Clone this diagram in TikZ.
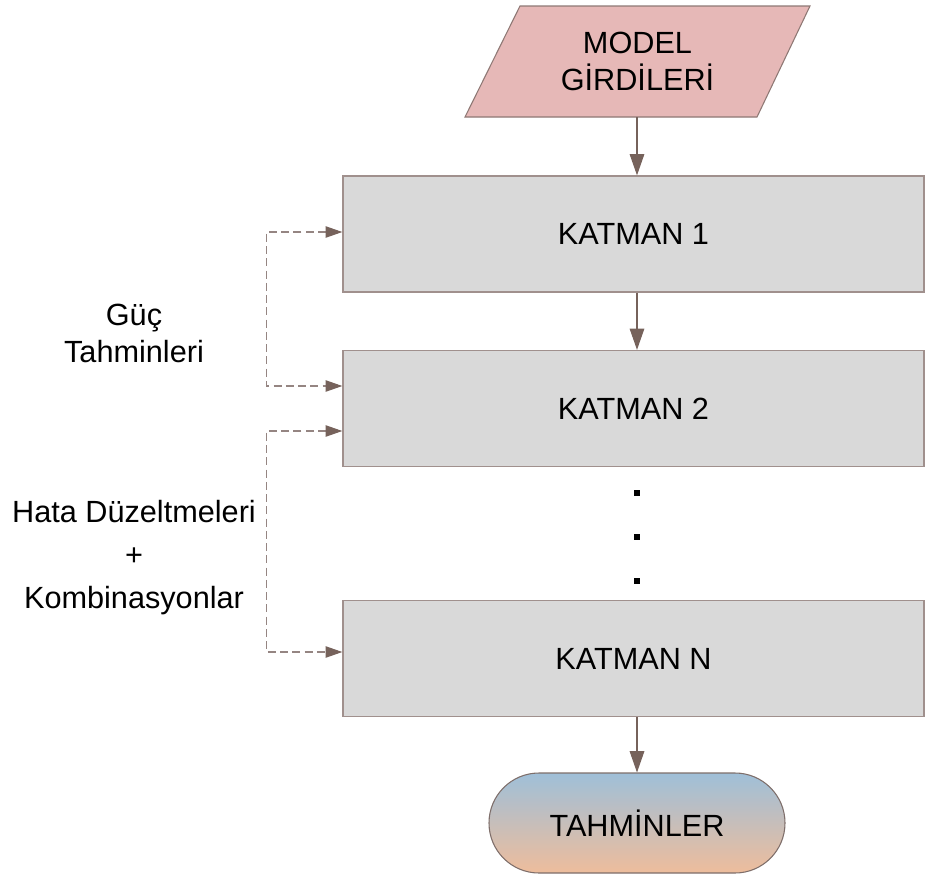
\documentclass[tikz,border=0pt]{standalone}
\usepackage{fontspec}
\setmainfont{Liberation Sans}
\usetikzlibrary{arrows.meta,shapes.misc}

\definecolor{inputfill}{HTML}{E6B8B7}
\definecolor{inputline}{HTML}{8E7874}
\definecolor{layerfill}{HTML}{D9D9D9}
\definecolor{layerline}{HTML}{A0908D}
\definecolor{flowline}{HTML}{76625B}
\definecolor{fbline}{HTML}{958582}
\definecolor{outtop}{HTML}{9FBFD8}
\definecolor{outbottom}{HTML}{EEBD9C}
\definecolor{outline}{HTML}{7E6E6A}

\tikzset{
  txt/.style={font=\fontsize{23}{27.75}\selectfont, text=black, align=center, inner sep=0pt},
  layer/.style={txt, draw=layerline, fill=layerfill, line width=1pt,
    minimum width=435.75pt, minimum height=87pt},
  terminal/.style={txt, rounded rectangle, draw=outline, line width=0.8pt,
    top color=outtop, bottom color=outbottom,
    minimum width=222pt, minimum height=75pt},
  flow/.style={draw=flowline, line width=0.8pt,
    -{Triangle[length=16pt,width=11pt,fill=flowline]}},
  fb/.style={draw=fbline, line width=0.8pt, dash pattern=on 6pt off 3.2pt,
    {Triangle[length=12.5pt,width=8.5pt,fill=flowline,color=flowline]}-{Triangle[length=12.5pt,width=8.5pt,fill=flowline,color=flowline]}},
  dotsq/.style={fill=black, inner sep=0pt, minimum size=3.8pt},
}

\begin{document}
\begin{tikzpicture}[x=0.75pt,y=-0.75pt]
  \useasboundingbox (0,0) rectangle (925,875);

  % input parallelogram
  \draw[fill=inputfill, draw=inputline, line width=0.8pt]
    (520,6) -- (810,6) -- (757,117) -- (465,117) -- cycle;
  \node[txt] (inp) at (637.5,61) {MODEL\\GİRDİLERİ};
  \coordinate (inpB) at (637,117);

  % layers
  \node[layer] (k1) at (633.5,234) {KATMAN 1};
  \node[layer] (k2) at (633.5,408.5) {KATMAN 2};
  \node[layer] (kN) at (633.5,658.5) {KATMAN N};

  % ellipsis between layers
  \node[dotsq] (d1) at (637,493) {};
  \node[dotsq] (d2) at (637,537) {};
  \node[dotsq] (d3) at (637,581) {};

  % output terminal
  \node[terminal] (out) at (637,823) {TAHMİNLER};

  % main flow
  \draw[flow] (inpB) -- (inpB |- k1.north);
  \draw[flow] (637,0 |- k1.south) -- (637,0 |- k2.north);
  \draw[flow] (637,0 |- kN.south) -- (out.north);

  % feedback links
  \draw[fb] (k1.west |- 0,232) -- ++(-76,0) |- (k2.west |- 0,386);
  \draw[fb] (k2.west |- 0,431) -- ++(-76,0) |- (kN.west |- 0,652);

  % side labels
  \node[txt] (lblA) at (134,333) {Güç\\Tahminleri};
  \node[txt, font=\fontsize{23}{32.25}\selectfont] (lblB) at (134,558)
    {Hata Düzeltmeleri\\+\\Kombinasyonlar};
\end{tikzpicture}
\end{document}
